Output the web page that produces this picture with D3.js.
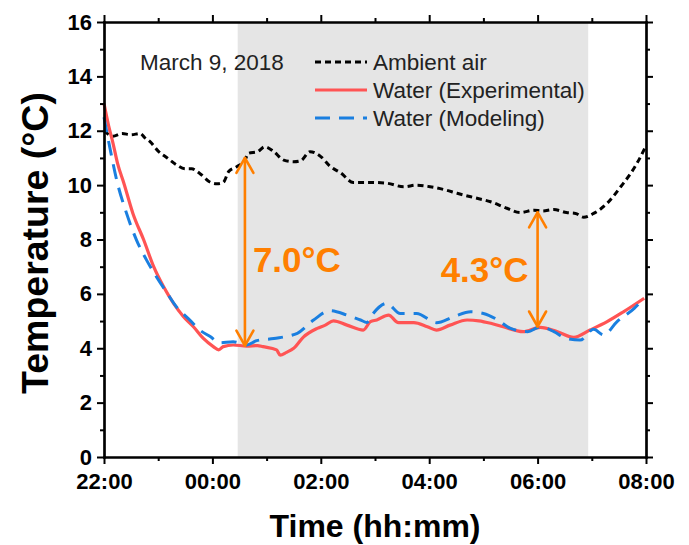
<!DOCTYPE html>
<html>
<head>
<meta charset="utf-8">
<script src="https://cdn.jsdelivr.net/npm/d3@7"></script>
<style>
  body { margin: 0; background: #fff; }
  svg text { font-family: "Liberation Sans", Arial, sans-serif; }
</style>
</head>
<body>
<svg id="chart" width="689" height="545"></svg>
<script>
// values (March 9, 2018)
var dateLabel = "March 9, 2018";
var timeTicks = ["22:00", "00:00", "02:00", "04:00", "06:00", "08:00"];
var timeMinorTicks = ["23:00", "01:00", "03:00", "05:00", "07:00"];
var tempTicks = [0, 2, 4, 6, 8, 10, 12, 14, 16];
var tempMinorTicks = [1, 3, 5, 7, 9, 11, 13, 15];
var shadedPeriod = ["00:28", "06:56"];

var airTimes = ["22:00", "22:10", "22:20", "22:30", "22:40", "22:45", "22:51", "23:00", "23:10", "23:20", "23:30", "23:37", "23:46", "23:58", "00:05", "00:12", "00:18", "00:27", "00:36", "00:40", "00:50", "00:58", "01:08", "01:19", "01:30", "01:38", "01:48", "02:00", "02:10", "02:22", "02:36", "02:55", "03:13", "03:32", "03:46", "04:01", "04:16", "04:31", "04:46", "04:55", "05:08", "05:26", "05:41", "05:56", "06:05", "06:18", "06:32", "06:42", "06:51", "07:02", "07:17", "07:32", "07:43", "07:52", "08:00"];
var airTemps = [12.0, 11.8, 11.9, 11.85, 11.9, 11.75, 11.6, 11.25, 11.0, 10.75, 10.6, 10.6, 10.43, 10.1, 10.05, 10.1, 10.5, 10.68, 10.92, 11.17, 11.23, 11.41, 11.23, 10.92, 10.86, 10.9, 11.23, 11.05, 10.7, 10.45, 10.1, 10.1, 10.07, 9.94, 10.0, 9.94, 9.84, 9.7, 9.57, 9.5, 9.39, 9.15, 8.99, 9.08, 9.05, 9.1, 8.99, 8.96, 8.82, 8.96, 9.33, 9.94, 10.43, 10.92, 11.45];

var expTimes = ["22:00", "22:05", "22:10", "22:15", "22:22", "22:32", "22:44", "22:55", "23:06", "23:17", "23:28", "23:39", "23:50", "00:01", "00:07", "00:12", "00:23", "00:38", "00:50", "00:56", "01:11", "01:15", "01:22", "01:30", "01:41", "01:56", "02:05", "02:14", "02:29", "02:47", "02:55", "03:02", "03:15", "03:26", "03:43", "03:58", "04:08", "04:23", "04:42", "04:55", "05:10", "05:22", "05:44", "06:03", "06:22", "06:40", "06:58", "07:17", "07:35", "07:58"];
var expTemps = [13.0, 12.2, 11.54, 10.8, 10.07, 8.96, 7.98, 7.0, 6.26, 5.65, 5.16, 4.79, 4.36, 4.06, 3.94, 4.06, 4.12, 4.08, 4.1, 4.06, 3.94, 3.75, 3.85, 4.0, 4.42, 4.73, 4.85, 5.01, 4.85, 4.67, 4.98, 5.04, 5.22, 4.94, 4.94, 4.79, 4.67, 4.85, 5.04, 5.01, 4.9, 4.79, 4.61, 4.77, 4.61, 4.4, 4.67, 4.98, 5.34, 5.84];

var modTimes = ["22:00", "22:07", "22:14", "22:25", "22:36", "22:47", "22:58", "23:10", "23:20", "23:35", "23:46", "23:58", "00:08", "00:23", "00:38", "00:49", "01:08", "01:34", "01:52", "02:10", "02:29", "02:44", "02:51", "02:58", "03:13", "03:28", "03:46", "04:08", "04:27", "04:46", "05:00", "05:15", "05:30", "05:49", "06:03", "06:18", "06:32", "06:47", "07:02", "07:13", "07:28", "07:47", "07:58"];
var modTemps = [12.5, 11.29, 10.19, 8.96, 7.98, 7.25, 6.63, 6.02, 5.53, 5.04, 4.67, 4.42, 4.2, 4.24, 4.12, 4.28, 4.36, 4.55, 5.04, 5.38, 5.22, 5.04, 4.95, 5.28, 5.65, 5.28, 5.28, 4.94, 5.16, 5.34, 5.28, 5.06, 4.73, 4.61, 4.79, 4.61, 4.36, 4.3, 4.7, 4.49, 4.98, 5.47, 5.84];

// temperature differences marked with arrows
var diffTimes = ["00:36", "06:00"];
var diffLow = [4.1, 4.8];
var diffHigh = [11.0, 9.0];
var diffLabels = ["7.0°C", "4.3°C"];

var seriesNames = ["Ambient air", "Water (Experimental)", "Water (Modeling)"];

function parseT(s) {
  var p = s.split(":").map(Number);
  return new Date(2018, 2, p[0] >= 12 ? 8 : 9, p[0], p[1]);
}
function zip(ts, vs) {
  return ts.map(function (t, i) { return { t: parseT(t), v: vs[i] }; });
}

var svg = d3.select("#chart"),
  margin = { top: 22, right: 43, bottom: 88, left: 104 },
  width = +svg.attr("width") - margin.left - margin.right,
  height = +svg.attr("height") - margin.top - margin.bottom;

var x = d3.scaleTime().domain([parseT("22:00"), parseT("08:00")]).range([0, width]);
var y = d3.scaleLinear().domain([0, 16]).range([height, 0]);

var g = svg.append("g").attr("transform", "translate(" + margin.left + "," + margin.top + ")");

var orange = "#ff7f00";
var styles = [
  { color: "#000", dash: "6,4", width: 3 },
  { color: "#ff5454", dash: null, width: 3.2 },
  { color: "#1a7fe0", dash: "15,9", width: 3 }
];

// shaded period
g.append("rect")
  .attr("x", x(parseT(shadedPeriod[0])))
  .attr("y", 0)
  .attr("width", x(parseT(shadedPeriod[1])) - x(parseT(shadedPeriod[0])))
  .attr("height", height)
  .attr("fill", "#e5e5e5");

var line = d3.line()
  .x(function (d) { return x(d.t); })
  .y(function (d) { return y(d.v); })
  .curve(d3.curveMonotoneX);

var series = [zip(airTimes, airTemps), zip(expTimes, expTemps), zip(modTimes, modTemps)];

series.forEach(function (data, i) {
  g.append("path")
    .datum(data)
    .attr("fill", "none")
    .attr("stroke", styles[i].color)
    .attr("stroke-width", styles[i].width)
    .attr("stroke-dasharray", styles[i].dash)
    .attr("stroke-linejoin", "round")
    .attr("d", line);
});

// arrows
diffTimes.forEach(function (t, i) {
  var ax = x(parseT(t)), y0 = y(diffLow[i]), y1 = y(diffHigh[i]);
  var a = g.append("g").attr("stroke", orange).attr("stroke-width", 2.6).attr("fill", "none")
    .attr("stroke-linecap", "round").attr("stroke-linejoin", "round");
  a.append("line").attr("x1", ax).attr("x2", ax).attr("y1", y0).attr("y2", y1);
  a.append("path").attr("d", "M" + (ax - 8.5) + "," + (y1 + 15) + "L" + ax + "," + y1 + "L" + (ax + 8.5) + "," + (y1 + 15));
  a.append("path").attr("d", "M" + (ax - 8.5) + "," + (y0 - 15) + "L" + ax + "," + y0 + "L" + (ax + 8.5) + "," + (y0 - 15));
});

g.append("text")
  .attr("x", x(parseT(diffTimes[0])) + 8)
  .attr("y", y(6.8))
  .attr("fill", orange)
  .attr("font-size", 35)
  .attr("font-weight", "bold")
  .text(diffLabels[0]);

g.append("text")
  .attr("x", x(parseT(diffTimes[1])) - 9)
  .attr("y", y(6.45))
  .attr("text-anchor", "end")
  .attr("fill", orange)
  .attr("font-size", 35)
  .attr("font-weight", "bold")
  .text(diffLabels[1]);

// legend
svg.append("text")
  .attr("x", 140).attr("y", 70)
  .attr("font-size", 22.5)
  .attr("fill", "#222")
  .text(dateLabel);

seriesNames.forEach(function (name, i) {
  var ly = 62 + i * 28;
  svg.append("line")
    .attr("x1", 315).attr("x2", 367).attr("y1", ly).attr("y2", ly)
    .attr("stroke", styles[i].color)
    .attr("stroke-width", styles[i].width)
    .attr("stroke-dasharray", styles[i].dash);
  svg.append("text")
    .attr("x", 373).attr("y", ly + 8)
    .attr("font-size", 22.5)
    .attr("fill", "#222")
    .text(name);
});

// axes
var fmt = d3.timeFormat("%H:%M");
var majorT = timeTicks.map(parseT), minorT = timeMinorTicks.map(parseT);

function styleAxis(sel) {
  sel.selectAll(".domain").attr("stroke", "#000").attr("stroke-width", 2.2).attr("stroke-linecap", "square");
  sel.selectAll(".tick line").attr("stroke", "#000").attr("stroke-width", 2);
  sel.selectAll(".tick text")
    .attr("fill", "#000")
    .attr("font-size", 22)
    .attr("font-weight", "bold")
    .attr("font-family", "'Liberation Sans', Arial, sans-serif");
}

g.append("g").attr("transform", "translate(0," + height + ")")
  .call(d3.axisBottom(x).tickValues(minorT).tickSize(4).tickSizeOuter(0).tickFormat(""))
  .call(styleAxis);
g.append("g").attr("transform", "translate(0," + height + ")")
  .call(d3.axisBottom(x).tickValues(majorT).tickSize(7).tickSizeOuter(0).tickPadding(9).tickFormat(fmt))
  .call(styleAxis);
g.append("g")
  .call(d3.axisTop(x).tickValues(minorT).tickSize(4).tickSizeOuter(0).tickFormat(""))
  .call(styleAxis);
g.append("g")
  .call(d3.axisTop(x).tickValues(majorT).tickSize(7).tickSizeOuter(0).tickFormat(""))
  .call(styleAxis);

g.append("g")
  .call(d3.axisLeft(y).tickValues(tempMinorTicks).tickSize(4).tickSizeOuter(0).tickFormat(""))
  .call(styleAxis);
g.append("g")
  .call(d3.axisLeft(y).tickValues(tempTicks).tickSize(7).tickSizeOuter(0).tickPadding(5).tickFormat(d3.format("d")))
  .call(styleAxis);
g.append("g").attr("transform", "translate(" + width + ",0)")
  .call(d3.axisRight(y).tickValues(tempMinorTicks).tickSize(4).tickSizeOuter(0).tickFormat(""))
  .call(styleAxis);
g.append("g").attr("transform", "translate(" + width + ",0)")
  .call(d3.axisRight(y).tickValues(tempTicks).tickSize(7).tickSizeOuter(0).tickFormat(""))
  .call(styleAxis);

// axis titles
svg.append("text")
  .attr("x", margin.left + width / 2)
  .attr("y", 537)
  .attr("text-anchor", "middle")
  .attr("font-size", 32)
  .attr("font-weight", "bold")
  .text("Time (hh:mm)");

svg.append("text")
  .attr("transform", "translate(48," + 243 + ") rotate(-90)")
  .attr("text-anchor", "middle")
  .attr("font-size", 37.5)
  .attr("font-weight", "bold")
  .text("Temperature (°C)");
</script>
</body>
</html>
